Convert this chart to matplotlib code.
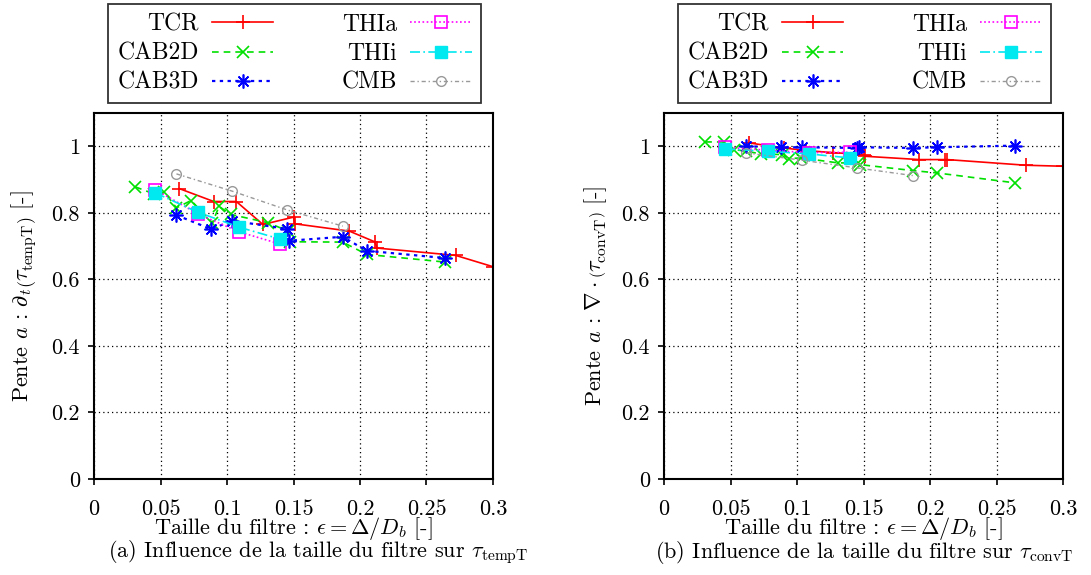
import matplotlib
matplotlib.use("Agg")
import matplotlib.pyplot as plt

plt.rcParams['font.family'] = ['cmr10', 'DejaVu Serif']
plt.rcParams['mathtext.fontset'] = 'cm'
plt.rcParams['axes.formatter.use_mathtext'] = True

# ---------------- data ----------------
eps_TCR = [0.064, 0.090, 0.107, 0.127, 0.150, 0.151, 0.192, 0.211, 0.213, 0.272, 0.300]
temp_TCR = [0.873, 0.834, 0.834, 0.765, 0.787, 0.767, 0.745, 0.713, 0.694, 0.672, 0.638]
conv_TCR = [1.010, 0.995, 0.987, 0.981, 0.975, 0.970, 0.960, 0.960, 0.960, 0.943, 0.940]

eps_CAB2D = [0.031, 0.045, 0.053, 0.062, 0.073, 0.089, 0.094, 0.103, 0.131, 0.146, 0.147, 0.187, 0.205, 0.264]
temp_CAB2D = [0.878, 0.857, 0.862, 0.815, 0.837, 0.770, 0.819, 0.795, 0.770, 0.745, 0.713, 0.712, 0.675, 0.652]
conv_CAB2D = [1.013, 1.013, 0.990, 0.985, 0.977, 0.975, 0.963, 0.965, 0.950, 0.950, 0.945, 0.927, 0.920, 0.890]

eps_CAB3D = [0.062, 0.088, 0.104, 0.145, 0.1465, 0.187, 0.205, 0.264]
temp_CAB3D = [0.793, 0.751, 0.776, 0.752, 0.716, 0.728, 0.686, 0.664]
conv_CAB3D = [1.000, 0.997, 0.997, 0.995, 0.997, 0.995, 0.997, 1.002]

eps_THI = [0.046, 0.078, 0.109, 0.140]
temp_THIa = [0.870, 0.797, 0.743, 0.706]
conv_THIa = [0.997, 0.988, 0.981, 0.982]
temp_THIi = [0.860, 0.802, 0.757, 0.721]
conv_THIi = [0.992, 0.985, 0.977, 0.965]

eps_CMB = [0.062, 0.104, 0.145, 0.187]
temp_CMB = [0.917, 0.865, 0.809, 0.760]
conv_CMB = [0.980, 0.958, 0.935, 0.912]

series_labels = ['TCR', 'CAB2D', 'CAB3D', 'THIa', 'THIi', 'CMB']
xticks = [0, 0.05, 0.1, 0.15, 0.2, 0.25, 0.3]
xticklabels = ['0', '0.05', '0.1', '0.15', '0.2', '0.25', '0.3']
yticks = [0, 0.2, 0.4, 0.6, 0.8, 1.0]
yticklabels = ['0', '0.2', '0.4', '0.6', '0.8', '1']

styles = {
    'TCR':   dict(color='#ff0000', ls='-', marker='+', ms=10, mew=1.2, mfc='none', lw=1.2),
    'CAB2D': dict(color='#00e000', ls=(0, (4, 3)), marker='x', ms=8, mew=1.2, mfc='none', lw=1.2),
    'CAB3D': dict(color='#0000ff', ls=(0, (1.5, 2)), marker=(8, 2, 0), ms=10, mew=1.2, mfc='none', lw=1.6),
    'THIa':  dict(color='#ff00ff', ls=(0, (1, 1.5)), marker='s', ms=8, mew=1.2, mfc='none', lw=1.2),
    'THIi':  dict(color='#00e8f0', ls=(0, (6, 2, 1, 2)), marker='s', ms=9, mew=1.0, lw=1.2),
    'CMB':   dict(color='#999999', ls=(0, (3, 2, 1, 2)), marker='o', ms=7, mew=1.0, mfc='none', lw=1.0),
}

fs = 16
fig = plt.figure(figsize=(10.91, 5.75), dpi=100)
axL = fig.add_axes([94/1091, 1-479/575, 399/1091, 366/575])
axR = fig.add_axes([664/1091, 1-479/575, 399/1091, 366/575])

def draw(ax, data):
    handles = []
    for lab, (x, y) in zip(series_labels, data):
        h, = ax.plot(x, y, label=lab, **styles[lab])
        handles.append(h)
    ax.set_xlim(0, 0.3)
    ax.set_ylim(0, 1.1)
    ax.set_xticks(xticks)
    ax.set_xticklabels(xticklabels, fontsize=fs)
    ax.set_yticks(yticks)
    ax.set_yticklabels(yticklabels, fontsize=fs)
    ax.tick_params(direction='out', length=4, width=1.2)
    ax.tick_params(axis='x', pad=11)
    ax.tick_params(axis='y', pad=6)
    ax.grid(True, color='black', ls=(0, (1, 2.5)), lw=0.9)
    for s in ax.spines.values():
        s.set_linewidth(1.5)
    ax.set_xlabel(r'Taille du filtre : $\epsilon = \Delta/D_b$ [-]', fontsize=fs, labelpad=-3)
    return handles

hL = draw(axL, [(eps_TCR, temp_TCR), (eps_CAB2D, temp_CAB2D), (eps_CAB3D, temp_CAB3D),
                (eps_THI, temp_THIa), (eps_THI, temp_THIi), (eps_CMB, temp_CMB)])
hR = draw(axR, [(eps_TCR, conv_TCR), (eps_CAB2D, conv_CAB2D), (eps_CAB3D, conv_CAB3D),
                (eps_THI, conv_THIa), (eps_THI, conv_THIi), (eps_CMB, conv_CMB)])

lab_big_L = r'Pente $a$ : $\partial_t\left(\tau_{\mathrm{tempT}}^{\ }\right)$ [-]'
lab_big_R = r'Pente $a$ : $\nabla\cdot\left(\tau_{\mathrm{convT}}^{\ }\right)$ [-]'
lab_L = r'Pente $a$ : $\partial_t\left(\tau_{\mathrm{tempT}}\right)$ [-]'
lab_R = r'Pente $a$ : $\nabla\cdot\left(\tau_{\mathrm{convT}}\right)$ [-]'
axL.set_ylabel(lab_big_L, fontsize=fs, labelpad=9)
axR.set_ylabel(lab_big_R, fontsize=fs, labelpad=9)
try:
    fig.canvas.draw()
except Exception:
    axL.set_ylabel(lab_L, fontsize=fs, labelpad=9)
    axR.set_ylabel(lab_R, fontsize=fs, labelpad=9)

for ax, handles, cx in [(axL, hL, 294.5/1091), (axR, hR, 864.5/1091)]:
    leg = ax.legend(handles, series_labels,
                    ncol=2, markerfirst=False, loc='upper center',
                    bbox_to_anchor=(cx, 1-4/575), bbox_transform=fig.transFigure,
                    fontsize=17, frameon=True, fancybox=False, edgecolor='black',
                    handlelength=2.6, handletextpad=0.55, columnspacing=2.9,
                    labelspacing=0.3, borderpad=0.4, borderaxespad=0, numpoints=1)
    leg.get_frame().set_linewidth(1.3)

fig.text(318/1091, 1-552/575, r'(a) Influence de la taille du filtre sur $\tau_{\mathrm{tempT}}$',
         ha='center', va='center', fontsize=fs)
fig.text(864/1091, 1-552/575, r'(b) Influence de la taille du filtre sur $\tau_{\mathrm{convT}}$',
         ha='center', va='center', fontsize=fs)

fig.savefig('out.png', dpi=100)
